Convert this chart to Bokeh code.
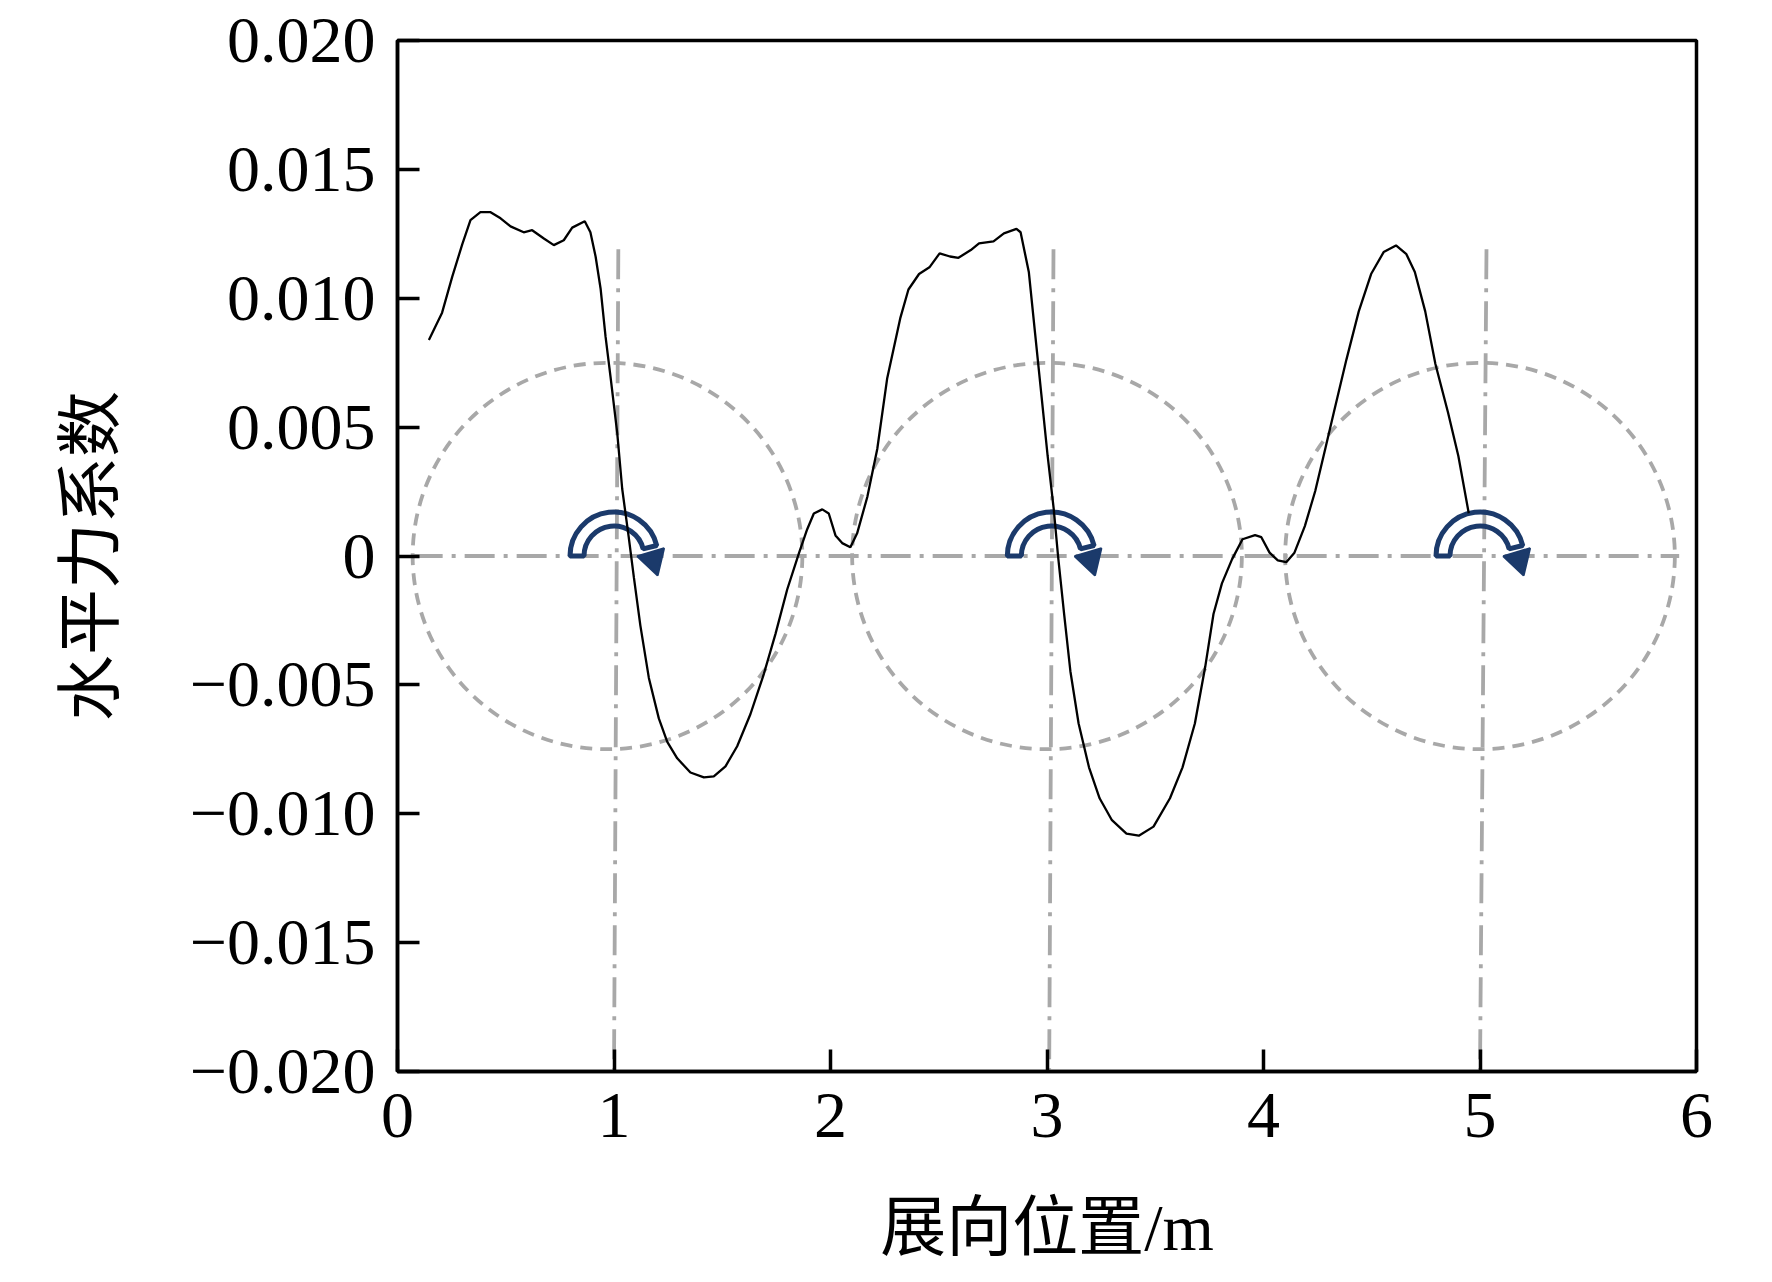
import numpy as np
from bokeh.plotting import figure
from bokeh.models import FixedTicker, CustomJSTickFormatter, Range1d
from bokeh.embed import file_html
from bokeh.resources import INLINE

# ---- data ----
span_x = [0.145, 0.206, 0.253, 0.299, 0.337, 0.383, 0.430, 0.476, 0.522, 0.583,
          0.622, 0.676, 0.722, 0.768, 0.807, 0.865, 0.891, 0.915, 0.938, 0.961,
          0.984, 1.015, 1.038, 1.068, 1.092, 1.122, 1.161, 1.207, 1.246, 1.292,
          1.353, 1.415, 1.461, 1.515, 1.569, 1.630, 1.692, 1.746, 1.800, 1.854,
          1.892, 1.923, 1.962, 1.992, 2.023, 2.054, 2.092, 2.123, 2.170, 2.216,
          2.262, 2.323, 2.360, 2.409, 2.457, 2.504, 2.552, 2.591, 2.648, 2.686,
          2.753, 2.801, 2.859, 2.878, 2.916, 2.945, 2.974, 3.003, 3.031, 3.051,
          3.079, 3.108, 3.146, 3.194, 3.243, 3.300, 3.367, 3.424, 3.492, 3.568,
          3.626, 3.683, 3.731, 3.769, 3.808, 3.855, 3.903, 3.961, 3.990, 4.028,
          4.066, 4.105, 4.143, 4.191, 4.239, 4.287, 4.325, 4.383, 4.440, 4.497,
          4.555, 4.612, 4.660, 4.699, 4.747, 4.794, 4.852, 4.900, 4.948]
force_coef = [0.00838, 0.00944, 0.01084, 0.01209, 0.01303, 0.01334, 0.01334, 0.0131, 0.01279, 0.01256,
              0.01264, 0.01232, 0.01206, 0.01225, 0.01274, 0.01299, 0.01256, 0.01162, 0.01038, 0.00851,
              0.00695, 0.00477, 0.00260, 0.00073, -0.00084, -0.00271, -0.00473, -0.0063, -0.00721, -0.00785,
              -0.0084, -0.00859, -0.00855, -0.00816, -0.00738, -0.00614, -0.00458, -0.00302, -0.0013, 0.0001,
              0.00103, 0.00165, 0.00181, 0.00165, 0.0008, 0.0005, 0.00034, 0.00088, 0.00229, 0.00415,
              0.0069, 0.00925, 0.01034, 0.01094, 0.0112, 0.01174, 0.01162, 0.01157, 0.01187, 0.01213,
              0.01221, 0.01252, 0.01269, 0.01256, 0.01102, 0.00864, 0.00626, 0.00388, 0.00183, 0.0,
              -0.00225, -0.00447, -0.0065, -0.0082, -0.0094, -0.01025, -0.01077, -0.01085, -0.0105, -0.0094,
              -0.0082, -0.0065, -0.00429, -0.00225, -0.00106, -0.00012, 0.00065, 0.00081, 0.00073, 0.00013,
              -0.00017, -0.00024, 0.00013, 0.00116, 0.00252, 0.00422, 0.00558, 0.00762, 0.00949, 0.01094,
              0.01179, 0.01205, 0.01171, 0.01102, 0.00949, 0.00745, 0.00558, 0.00388, 0.00166]

circle_x = [0.97, 3.0, 5.0]          # rotor circle centres
circle_w = [1.8, 1.8, 1.8]           # diameters (x units)
circle_h = [0.015, 0.015, 0.015]     # diameters (y units)
vline_top_x = [1.02, 3.03, 5.03]
vline_bot_x = [1.0, 3.01, 5.0]
vline_top_y = [0.0119, 0.0119, 0.0119]
hline_x = [0.07, 5.92]
arrow_x = [1.0, 3.02, 5.0]

x_ticks = [0, 1, 2, 3, 4, 5, 6]
y_ticks = [-0.020, -0.015, -0.010, -0.005, 0.0, 0.005, 0.010, 0.015, 0.020]

# ---- figure ----
SERIF = "'Liberation Serif', 'Noto Sans CJK SC'"
FRAME_W, FRAME_H = 1299, 1048
p = figure(width=1756, height=1266, output_backend="svg", toolbar_location=None,
           x_range=Range1d(0, 6), y_range=Range1d(-0.020, 0.020),
           min_border_left=397, min_border_right=60, min_border_top=40, min_border_bottom=178)
p.grid.visible = False
p.background_fill_color = "white"
p.border_fill_color = "white"
p.outline_line_color = "black"
p.outline_line_width = 3.5

navy = "#1b3a6b"
grey = "#a8a8a8"

# dashed circles
p.ellipse(x=circle_x, y=[0, 0, 0], width=circle_w, height=circle_h,
          fill_alpha=0, line_color=grey, line_width=3.8, line_dash="12 8")
# dash-dot axes
p.line(x=hline_x, y=[0, 0], line_color=grey, line_width=3.8, line_dash="30 9 4 9")
p.segment(x0=vline_top_x, y0=vline_top_y, x1=vline_bot_x, y1=[-0.020] * 3,
          line_color=grey, line_width=3.8, line_dash="30 9 4 9")

# rotation arrows
px_per_x = FRAME_W / 6.0
px_per_y = FRAME_H / 0.040
p.annular_wedge(x=arrow_x, y=[0, 0, 0], inner_radius=30, outer_radius=44,
                inner_radius_units="screen", outer_radius_units="screen",
                start_angle=0.24, end_angle=np.pi, direction="anticlock",
                fill_color="white", fill_alpha=0.0, line_color=navy, line_width=5)
head_x = [a + 39 / px_per_x for a in arrow_x]
head_y = [-4 / px_per_y] * 3
p.scatter(x=head_x, y=head_y, marker="triangle", size=28, angle=-2.85,
          fill_color=navy, line_color=navy, line_width=2)

# curve
p.line(x=span_x, y=force_coef, line_color="black", line_width=2.3)

# axes
for ax in (p.xaxis[0], p.yaxis[0]):
    ax.axis_line_width = 3.5
    ax.axis_line_color = "black"
    ax.major_tick_line_width = 3.5
    ax.major_tick_in = 22
    ax.major_tick_out = 0
    ax.minor_tick_line_color = None
    ax.major_label_text_font = SERIF
    ax.major_label_text_font_size = "66px"
    ax.major_label_text_color = "black"
    ax.axis_label_text_font = SERIF
    ax.axis_label_text_font_size = "66px"
    ax.axis_label_text_font_style = "normal"
    ax.axis_label_text_color = "black"

p.xaxis.ticker = FixedTicker(ticks=x_ticks)
p.yaxis.ticker = FixedTicker(ticks=y_ticks)
p.yaxis.formatter = CustomJSTickFormatter(code="""
if (Math.abs(tick) < 1e-12) return "0";
const s = Math.abs(tick).toFixed(3);
return tick < 0 ? "\u2212" + s : s;
""")
p.xaxis.major_label_standoff = 22
p.yaxis.major_label_standoff = 22
p.xaxis.axis_label = "展向位置/m"
p.yaxis.axis_label = "水平力系数"
p.xaxis.axis_label_standoff = 51
p.yaxis.axis_label_standoff = 60

open("out.html", "w").write(file_html(p, INLINE))
